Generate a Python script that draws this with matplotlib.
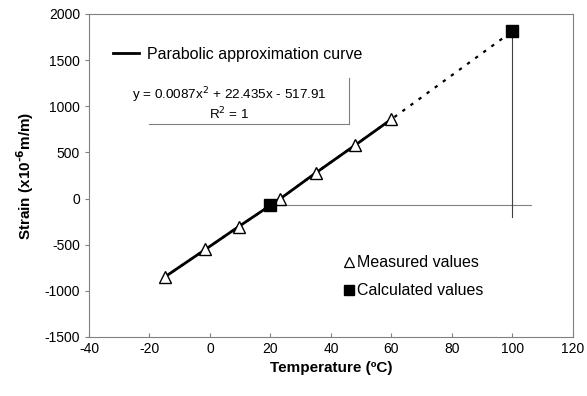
import numpy as np
import matplotlib.pyplot as plt

plt.rcParams['font.family'] = ['Liberation Sans', 'DejaVu Sans']
plt.rcParams['axes.unicode_minus'] = False

# measured points
temp_meas = [-15, -1.5, 9.5, 23, 35, 48, 60]
strain_meas = [-851, -551, -304, -8, 278, 578, 859]

# calculated points
temp_calc = [20, 100]
strain_calc = [-66, 1812]

gray = '#808080'

fig = plt.figure(figsize=(5.87, 3.96), dpi=100)
ax = fig.add_axes([0.1516, 0.149, 0.8244, 0.816])

# dotted extension up to 100 degC
ax.plot(temp_meas + [temp_calc[1]], strain_meas + [strain_calc[1]],
        color='black', lw=1.6, ls=(0, (1.5, 3)), zorder=2)
# parabolic approximation curve
ax.plot(temp_meas, strain_meas, color='black', lw=2, zorder=3,
        label='Parabolic approximation curve')

# guide lines for calculated values
ax.plot([temp_calc[0], 106], [strain_calc[0], strain_calc[0]], color=gray, lw=0.8, zorder=1)
ax.plot([temp_calc[1], temp_calc[1]], [strain_calc[1], -200], color='#404040', lw=0.8, zorder=1)

ax.plot(temp_meas, strain_meas, ls='none', marker='^', ms=9, mfc='white',
        mec='black', mew=1, zorder=4)
ax.plot(temp_calc, strain_calc, ls='none', marker='s', ms=8, mfc='black',
        mec='black', zorder=5)

ax.set_xlim(-40, 120)
ax.set_ylim(-1500, 2000)
ax.set_xticks(np.arange(-40, 121, 20))
ax.set_yticks(np.arange(-1500, 2001, 500))
for s in ax.spines.values():
    s.set_color(gray)
ax.tick_params(axis='both', labelsize=10, color=gray, length=3, direction='in')
ax.tick_params(axis='y', direction='out')

ax.set_xlabel('Temperature (ºC)', fontsize=11, fontweight='bold', labelpad=4)
ax.set_ylabel('Strain (x10$^{\\mathbf{\u2010}\\mathbf{6}}$m/m)', fontsize=11,
              fontweight='bold', labelpad=6)

# legend for curve
leg = ax.legend(loc='upper left', bbox_to_anchor=(0.02, 0.943), frameon=False,
                fontsize=11.5, handlelength=1.6, handletextpad=0.5)

# equation text box
ax.text(0.29, 0.78, 'y = 0.0087x$^2$ + 22.435x - 517.91\nR$^2$ = 1',
        transform=ax.transAxes, ha='center', va='top', fontsize=9.7,
        linespacing=1.05)
ax.plot([0.123, 0.537], [0.659, 0.659], transform=ax.transAxes, color=gray, lw=0.8)
ax.plot([0.537, 0.537], [0.659, 0.80], transform=ax.transAxes, color=gray, lw=0.8)

# marker legend
ax.plot([0.537], [0.231], transform=ax.transAxes, marker='^', ms=7.5,
        mfc='white', mec='black', mew=0.9, ls='none')
ax.text(0.553, 0.231, 'Measured values', transform=ax.transAxes,
        va='center', fontsize=11.5)
ax.plot([0.537], [0.144], transform=ax.transAxes, marker='s', ms=7,
        mfc='black', mec='black', ls='none')
ax.text(0.553, 0.144, 'Calculated values', transform=ax.transAxes,
        va='center', fontsize=11.5)

fig.savefig('out.png', dpi=100)
